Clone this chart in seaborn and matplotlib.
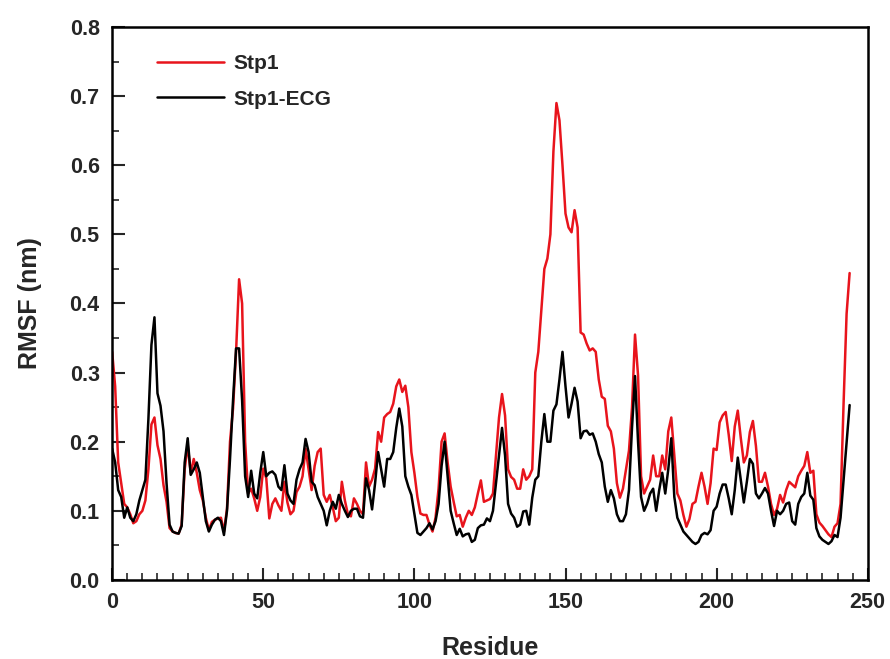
import numpy as np
import pandas as pd
import seaborn as sns
import matplotlib.pyplot as plt
from matplotlib.lines import Line2D
from matplotlib.ticker import MultipleLocator

# RMSF per residue
stp1 = [
    0.33, 0.28, 0.17, 0.14, 0.11, 0.105, 0.095, 0.082, 0.085, 0.095,
    0.10, 0.115, 0.16, 0.225, 0.235, 0.195, 0.175, 0.137, 0.113, 0.075,
    0.07, 0.068, 0.067, 0.08, 0.16, 0.195, 0.155, 0.175, 0.155, 0.13,
    0.115, 0.09, 0.072, 0.084, 0.087, 0.089, 0.09, 0.07, 0.103, 0.2,
    0.248, 0.33, 0.435, 0.40, 0.2, 0.125, 0.132, 0.118, 0.10, 0.12,
    0.161, 0.147, 0.089, 0.11, 0.118, 0.108, 0.10, 0.142, 0.112, 0.095,
    0.10, 0.127, 0.135, 0.15, 0.19, 0.16, 0.13, 0.165, 0.185, 0.19,
    0.123, 0.113, 0.123, 0.105, 0.085, 0.09, 0.142, 0.115, 0.095, 0.092,
    0.118, 0.11, 0.10, 0.095, 0.17, 0.135, 0.145, 0.161, 0.214, 0.20,
    0.235, 0.24, 0.243, 0.255, 0.28, 0.29, 0.272, 0.281, 0.25, 0.185,
    0.155, 0.12, 0.096, 0.094, 0.094, 0.08, 0.07, 0.09, 0.132, 0.20,
    0.212, 0.17, 0.135, 0.113, 0.092, 0.094, 0.077, 0.09, 0.10, 0.094,
    0.105, 0.125, 0.144, 0.113, 0.115, 0.117, 0.125, 0.18, 0.235, 0.269,
    0.238, 0.16, 0.149, 0.145, 0.132, 0.132, 0.16, 0.145, 0.15, 0.16,
    0.30, 0.33, 0.39, 0.45, 0.465, 0.50, 0.62, 0.69, 0.665, 0.60,
    0.53, 0.51, 0.503, 0.535, 0.51, 0.358, 0.355, 0.342, 0.332, 0.335,
    0.33, 0.29, 0.265, 0.262, 0.223, 0.215, 0.19, 0.14, 0.119, 0.132,
    0.16, 0.187, 0.249, 0.355, 0.296, 0.15, 0.125, 0.135, 0.145, 0.18,
    0.15, 0.15, 0.18, 0.16, 0.215, 0.235, 0.18, 0.125, 0.115, 0.094,
    0.077, 0.088, 0.11, 0.113, 0.135, 0.155, 0.135, 0.11, 0.14, 0.19,
    0.188, 0.228, 0.238, 0.243, 0.21, 0.172, 0.222, 0.245, 0.205, 0.17,
    0.18, 0.214, 0.23, 0.194, 0.142, 0.142, 0.155, 0.135, 0.11, 0.094,
    0.103, 0.123, 0.112, 0.13, 0.142, 0.138, 0.134, 0.15, 0.158, 0.165,
    0.185, 0.155, 0.158, 0.095, 0.083, 0.078, 0.072, 0.066, 0.062, 0.077,
    0.082, 0.11, 0.255, 0.385, 0.444,
]

stp1_ecg = [
    0.19, 0.17, 0.13, 0.12, 0.09, 0.105, 0.09, 0.085, 0.095, 0.115,
    0.13, 0.145, 0.233, 0.34, 0.38, 0.27, 0.252, 0.215, 0.14, 0.08,
    0.07, 0.068, 0.067, 0.078, 0.17, 0.205, 0.152, 0.16, 0.17, 0.155,
    0.12, 0.085, 0.07, 0.08, 0.087, 0.09, 0.085, 0.065, 0.10, 0.175,
    0.26, 0.335, 0.335, 0.26, 0.15, 0.12, 0.158, 0.125, 0.118, 0.155,
    0.185, 0.15, 0.155, 0.157, 0.152, 0.135, 0.13, 0.166, 0.125, 0.115,
    0.11, 0.145, 0.16, 0.17, 0.204, 0.185, 0.142, 0.137, 0.12, 0.11,
    0.10, 0.079, 0.10, 0.113, 0.103, 0.123, 0.11, 0.10, 0.091, 0.10,
    0.103, 0.103, 0.092, 0.09, 0.147, 0.13, 0.102, 0.14, 0.185, 0.16,
    0.135, 0.175, 0.175, 0.185, 0.22, 0.248, 0.222, 0.15, 0.135, 0.123,
    0.095, 0.068, 0.065, 0.07, 0.075, 0.082, 0.073, 0.085, 0.11, 0.165,
    0.20, 0.15, 0.10, 0.082, 0.065, 0.074, 0.063, 0.066, 0.067, 0.055,
    0.058, 0.075, 0.079, 0.08, 0.089, 0.085, 0.10, 0.14, 0.18, 0.22,
    0.18, 0.11, 0.096, 0.09, 0.077, 0.08, 0.099, 0.10, 0.08, 0.119,
    0.145, 0.15, 0.20, 0.24, 0.20, 0.20, 0.245, 0.254, 0.29, 0.33,
    0.28, 0.235, 0.255, 0.278, 0.258, 0.205, 0.215, 0.216, 0.21, 0.212,
    0.20, 0.182, 0.17, 0.135, 0.113, 0.13, 0.118, 0.095, 0.085, 0.085,
    0.095, 0.13, 0.22, 0.295, 0.20, 0.12, 0.10, 0.11, 0.125, 0.132,
    0.10, 0.13, 0.155, 0.125, 0.16, 0.205, 0.12, 0.09, 0.08, 0.07,
    0.065, 0.06, 0.055, 0.052, 0.055, 0.065, 0.068, 0.066, 0.072, 0.10,
    0.106, 0.125, 0.138, 0.138, 0.118, 0.095, 0.13, 0.177, 0.145, 0.112,
    0.142, 0.175, 0.168, 0.125, 0.118, 0.125, 0.133, 0.125, 0.10, 0.078,
    0.10, 0.095, 0.10, 0.11, 0.112, 0.085, 0.08, 0.11, 0.12, 0.125,
    0.155, 0.122, 0.116, 0.075, 0.063, 0.058, 0.055, 0.052, 0.056, 0.065,
    0.062, 0.09, 0.145, 0.20, 0.253,
]

series_names = ['Stp1', 'Stp1-ECG']
series_colors = {'Stp1': '#e8141c', 'Stp1-ECG': '#000000'}

residue = np.arange(len(stp1))

df = pd.concat([
    pd.DataFrame({'residue': residue, 'rmsf': stp1, 'system': 'Stp1'}),
    pd.DataFrame({'residue': residue, 'rmsf': stp1_ecg, 'system': 'Stp1-ECG'}),
])

sns.set_theme(style='ticks')
plt.rcParams['font.family'] = ['Liberation Sans', 'DejaVu Sans']
plt.rcParams['font.weight'] = 'bold'

fig = plt.figure(figsize=(8.9, 6.59), dpi=100)
ax = fig.add_axes([0.126, 0.12, 0.849, 0.839])

sns.lineplot(
    data=df, x='residue', y='rmsf', hue='system', hue_order=series_names,
    palette=series_colors, linewidth=1.8, ax=ax, legend=False,
)

ax.set_xlim(0, 250)
ax.set_ylim(0, 0.8)
ax.xaxis.set_major_locator(MultipleLocator(50))
ax.xaxis.set_minor_locator(MultipleLocator(5))
ax.yaxis.set_major_locator(MultipleLocator(0.1))
ax.yaxis.set_minor_locator(MultipleLocator(0.05))
ax.yaxis.set_major_formatter(plt.FuncFormatter(lambda v, _: f'{v:.1f}'))
ax.tick_params(which='major', direction='in', length=9, width=1.5, labelsize=15.5, pad=9)
ax.tick_params(which='minor', direction='in', length=5, width=1.2)
for lab in ax.get_xticklabels() + ax.get_yticklabels():
    lab.set_fontweight('bold')
for sp in ax.spines.values():
    sp.set_linewidth(1.8)
    sp.set_color('black')

ax.set_xlabel('Residue', fontsize=18, fontweight='bold', labelpad=16)
ax.set_ylabel('RMSF (nm)', fontsize=18, fontweight='bold', labelpad=20)

handles = [Line2D([], [], color=series_colors[n], lw=1.8) for n in series_names]
ax.legend(handles, series_names, loc='upper left', frameon=False,
          prop={'weight': 'bold', 'size': 15}, handlelength=3.2,
          handletextpad=0.45, labelspacing=0.8, bbox_to_anchor=(0.035, 0.985))

fig.savefig('out.png', dpi=100, facecolor='white')
